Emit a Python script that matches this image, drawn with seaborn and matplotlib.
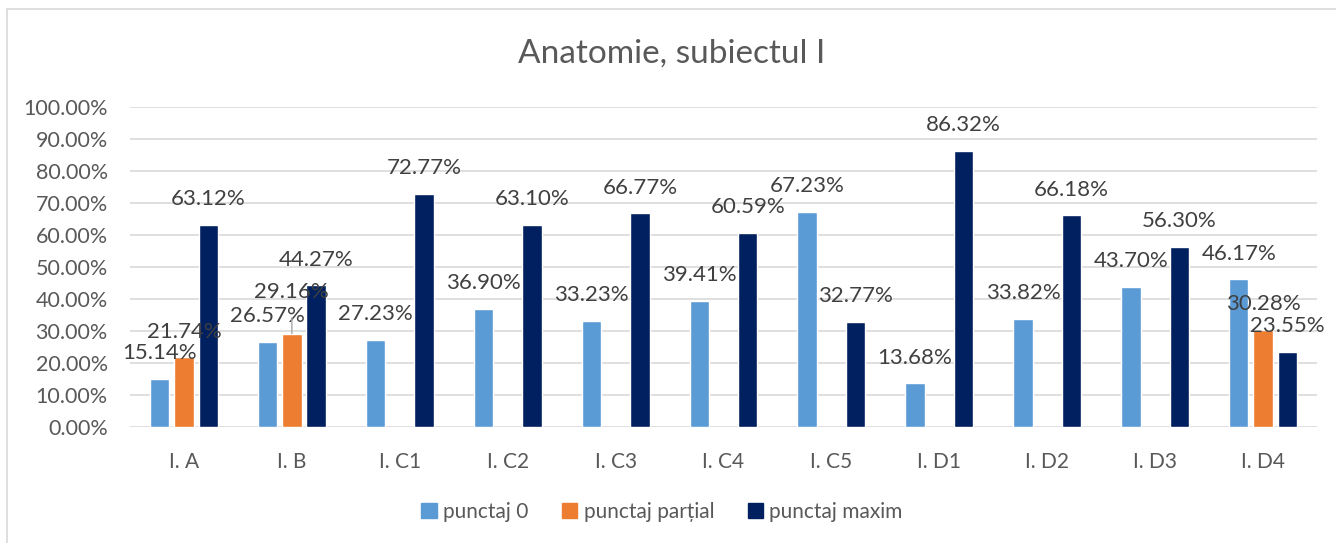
import numpy as np
import pandas as pd
import matplotlib
matplotlib.use("Agg")
import matplotlib.pyplot as plt
from matplotlib.lines import Line2D
import seaborn as sns

# Data (percent)
categories = ['I. A', 'I. B', 'I. C1', 'I. C2', 'I. C3', 'I. C4', 'I. C5',
              'I. D1', 'I. D2', 'I. D3', 'I. D4']
series_names = ['punctaj 0', 'punctaj parțial', 'punctaj maxim']
punctaj_0 = [15.14, 26.57, 27.23, 36.90, 33.23, 39.41, 67.23, 13.68, 33.82, 43.70, 46.17]
punctaj_partial = [21.74, 29.16, np.nan, np.nan, np.nan, np.nan, np.nan, np.nan, np.nan, np.nan, 30.28]
punctaj_maxim = [63.12, 44.27, 72.77, 63.10, 66.77, 60.59, 32.77, 86.32, 66.18, 56.30, 23.55]
colors = ['#5B9BD5', '#ED7D31', '#002060']

rows = []
for name, vals in zip(series_names, [punctaj_0, punctaj_partial, punctaj_maxim]):
    for cat, v in zip(categories, vals):
        rows.append({'Categorie': cat, 'Serie': name, 'Procent': v / 100})
df = pd.DataFrame(rows)

sns.set_style('white')
plt.rcParams['font.family'] = ['Lato', 'DejaVu Sans']
text_color = '#595959'

fig = plt.figure(figsize=(13.36, 5.43), dpi=100)
ax = fig.add_axes([130 / 1336, 1 - 427 / 543, 1187 / 1336, 320 / 543])

sns.barplot(data=df, x='Categorie', y='Procent', hue='Serie', order=categories,
            hue_order=series_names, palette=colors, width=0.675, gap=0.2,
            saturation=1, errorbar=None, legend=False, ax=ax)

ax.set_ylim(0, 1)
ax.set_yticks(np.arange(0, 1.01, 0.1))
ax.set_yticklabels([f'{t * 100:.2f}%' for t in np.arange(0, 1.01, 0.1)],
                   fontsize=15.5, color=text_color)
ax.tick_params(axis='x', labelsize=15, labelcolor=text_color, pad=18, length=0)
ax.tick_params(axis='y', length=0, pad=16)
ax.set_xlabel('')
ax.set_ylabel('')
ax.grid(axis='y', color='#D9D9D9', linewidth=1.2)
ax.set_axisbelow(True)
for s in ax.spines.values():
    s.set_visible(False)

# data labels above each bar
for container in ax.containers:
    for bar in container:
        h = bar.get_height()
        if np.isnan(h) or h == 0:
            continue
        x = bar.get_x() + bar.get_width() / 2
        label = f'{h * 100:.2f}%'
        if label == '29.16%':
            ax.annotate(label, xy=(x, h), xytext=(0, 30), textcoords='offset points',
                        ha='center', va='center', fontsize=16, color='#404040',
                        arrowprops=dict(arrowstyle='-', color='#A6A6A6', lw=1,
                                        shrinkA=9, shrinkB=0))
        else:
            ax.annotate(label, xy=(x, h), xytext=(0, 18.5), textcoords='offset points',
                        ha='center', va='center', fontsize=16, color='#404040')

fig.suptitle('Anatomie, subiectul I', x=672 / 1336, y=1 - 54 / 543, va='center',
             fontsize=24, color=text_color)

handles = [plt.Rectangle((0, 0), 1, 1, color=c) for c in colors]
fig.legend(handles, series_names, loc='center', bbox_to_anchor=(662 / 1336, 1 - 512 / 543),
           ncol=3, frameon=False, fontsize=15, labelcolor=text_color,
           handlelength=0.75, handleheight=0.75, handletextpad=0.3, columnspacing=1.6)

# chart border (top and left only visible in reference)
fig.add_artist(Line2D([7 / 1336, 1], [1 - 9 / 543, 1 - 9 / 543], color='#D9D9D9', lw=1.2))
fig.add_artist(Line2D([7 / 1336, 7 / 1336], [0, 1 - 9 / 543], color='#D9D9D9', lw=1.2))

fig.savefig('out.png', dpi=100, facecolor='white')
